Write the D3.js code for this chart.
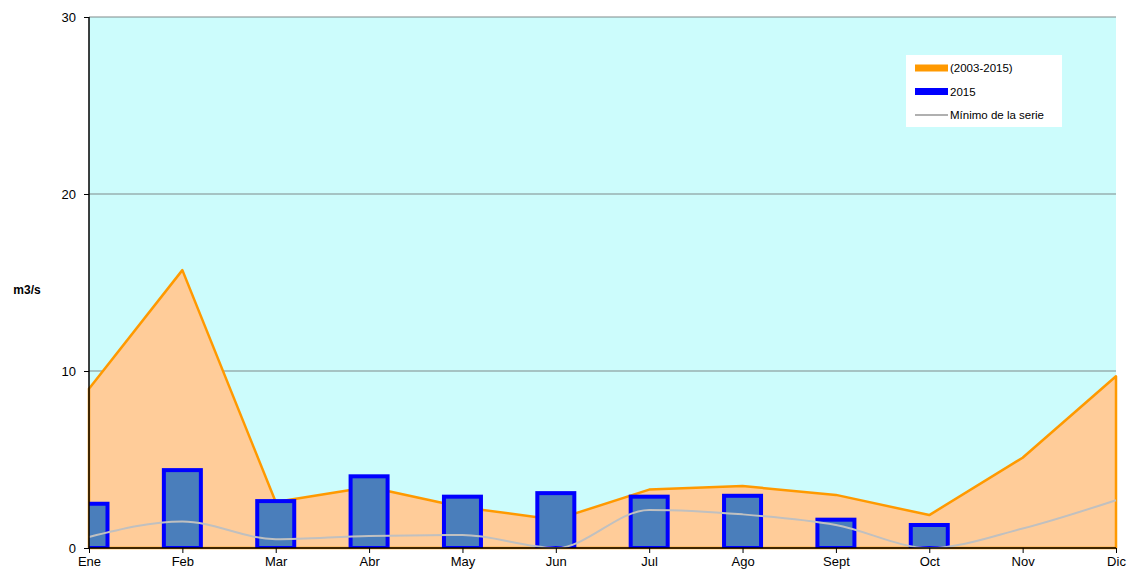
<!DOCTYPE html>
<html><head><meta charset="utf-8">
<script src="https://cdn.jsdelivr.net/npm/d3@7"></script>
<style>body{margin:0;background:#fff}svg{display:block;font-family:"Liberation Sans",Arial,sans-serif}</style>
</head><body><svg id="c" width="1135" height="574"></svg>
<script>
const months = ["Ene","Feb","Mar","Abr","May","Jun","Jul","Ago","Sept","Oct","Nov","Dic"];
const mean20032015 = [9.0,15.7,2.6,3.45,2.3,1.6,3.3,3.5,3.0,1.86,5.1,9.7];
const year2015 = [2.5,4.4,2.65,4.05,2.9,3.1,2.9,2.95,1.6,1.3,null,null];
const minSerie = [0.62,1.5,0.5,0.68,0.73,0.0,2.15,1.9,1.3,0.0,1.1,2.7];
const yTicks = [0,10,20,30];
const legendLabels = ["(2003-2015)","2015","Mínimo de la serie"];

const svg = d3.select("#c");
const L=89,R=1116,T=17,B=548;
const x = d3.scalePoint().domain(months).range([L,R]);
const y = d3.scaleLinear().domain([0,30]).range([B,T]);

svg.append("defs").append("clipPath").attr("id","clip").append("rect")
  .attr("x",L).attr("y",T).attr("width",R-L).attr("height",B-T);

svg.append("rect").attr("x",L).attr("y",T).attr("width",R-L).attr("height",B-T).attr("fill","#ccfcfc");

svg.append("g").selectAll("line").data(yTicks.filter(d=>d>0)).join("line")
  .attr("x1",L).attr("x2",R).attr("y1",d=>y(d)).attr("y2",d=>y(d))
  .attr("stroke","#7f8a8a").attr("stroke-width",1);

const area = d3.area().x((d,i)=>x(months[i])).y0(y(0)).y1(d=>y(d));
svg.append("path").datum(mean20032015).attr("d",area)
  .attr("fill","#ffcc99").attr("stroke","#ff9900").attr("stroke-width",2.5).attr("stroke-linejoin","round");

const bw = 37;
svg.append("g").attr("clip-path","url(#clip)").selectAll("rect")
  .data(year2015.map((v,i)=>({m:months[i],v})).filter(d=>d.v!=null)).join("rect")
  .attr("x",d=>x(d.m)-bw/2).attr("width",bw)
  .attr("y",d=>y(d.v)).attr("height",d=>y(0)-y(d.v))
  .attr("fill","#4a7ebb").attr("stroke","#0000ff").attr("stroke-width",4);

const line = d3.line().x((d,i)=>x(months[i])).y(d=>y(d)).curve(d3.curveMonotoneX);
svg.append("path").datum(minSerie).attr("d",line)
  .attr("fill","none").attr("stroke","#c0c0c0").attr("stroke-width",2);

const yAxis = svg.append("g").attr("transform",`translate(${L},0)`)
  .call(d3.axisLeft(y).tickValues(yTicks).tickSize(5).tickPadding(8));
const xAxis = svg.append("g").attr("transform",`translate(0,${B})`)
  .call(d3.axisBottom(x).tickSize(5).tickPadding(4));
[yAxis,xAxis].forEach(g=>{
  g.select(".domain").attr("stroke","#000").attr("stroke-width",1.5);
  g.selectAll(".tick line").attr("stroke","#000");
  g.selectAll("text").attr("font-size",13).attr("fill","#000").attr("font-family","Liberation Sans, Arial, sans-serif");
});
xAxis.select(".domain").attr("d",`M${L},0H${R}`);
yAxis.select(".domain").attr("d",`M0,${B}V${T}`);

svg.append("text").attr("x",27).attr("y",294).attr("text-anchor","middle")
  .attr("font-size",12).attr("font-weight","bold").text("m3/s");

const lg = svg.append("g");
lg.append("rect").attr("x",906).attr("y",55).attr("width",156).attr("height",72).attr("fill","#ffffff");
const items = [{c:"#ff9900",h:7,fill:true},{c:"#0000ff",h:7,fill:true},{c:"#b0b0b0",h:2,fill:false}];
items.forEach((it,i)=>{
  const yy = 68+i*23.5;
  lg.append("rect").attr("x",915).attr("y",yy-it.h/2).attr("width",33).attr("height",it.h).attr("fill",it.c);
  lg.append("text").attr("x",950).attr("y",yy+4).attr("font-size",11.5).attr("fill","#000").text(legendLabels[i]);
});
</script></body></html>
